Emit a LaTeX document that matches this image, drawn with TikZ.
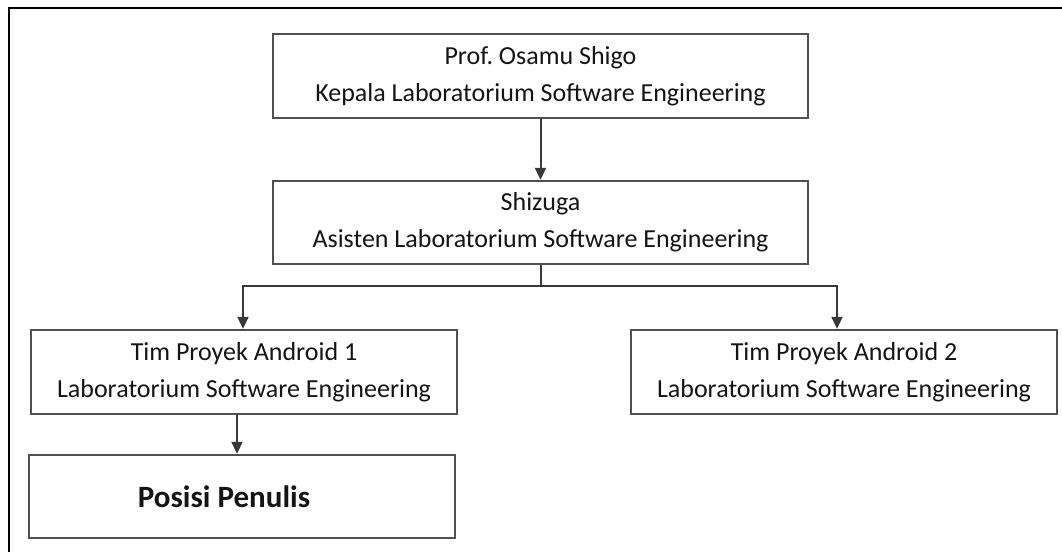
\documentclass[tikz,border=0pt]{standalone}
\usepackage{fontspec}
\setmainfont{Carlito}
\usetikzlibrary{arrows.meta,positioning,calc}
\definecolor{boxline}{HTML}{505050}
\definecolor{txt}{HTML}{141414}
\frenchspacing
\begin{document}
\begin{tikzpicture}[x=0.5pt,y=-0.5pt,
  orgbox/.style={draw=boxline,line width=1.2pt,inner sep=0pt,align=center,
    text=txt,font=\fontsize{13}{18.5}\selectfont},
  conn/.style={draw=boxline!70!black,line width=1pt},
  arr/.style={conn,-{Triangle[width=5.5pt,length=6pt]}}]
\useasboundingbox (0,0) rectangle (1062,552);
\draw[line width=0.9pt,black] (9,552) -- (9,8) -- (1062,8);
\node[orgbox,minimum width=267.5pt,minimum height=42pt] (prof) at (540.5,76)
  {Prof. Osamu Shigo\\Kepala Laboratorium Software Engineering};
\node[orgbox,minimum width=267.5pt,minimum height=41.5pt] (asis) at (540.5,222.5)
  {Shizuga\\Asisten Laboratorium Software Engineering};
\node[orgbox,minimum width=213pt,minimum height=42pt] (tim1) at (244,372)
  {Tim Proyek Android 1\\Laboratorium Software Engineering};
\node[orgbox,minimum width=213pt,minimum height=42pt] (tim2) at (844,372)
  {Tim Proyek Android 2\\Laboratorium Software Engineering};
\node[orgbox,minimum width=213pt,minimum height=41.5pt,font=\bfseries\fontsize{15.5}{18}\selectfont] (pos) at (242,496.5)
  {\hspace*{-18pt}Posisi Penulis};
\draw[arr] (prof.south) -- (asis.north);
\coordinate (j) at ($(asis.south)+(0,21)$);
\draw[conn] (asis.south) -- (j);
\draw[arr] (j) -| ([xshift=-0.5pt]tim1.north);
\draw[arr] (j) -| ([xshift=-3.5pt]tim2.north);
\draw[arr] ([xshift=-3.5pt]tim1.south) -- ([xshift=-3.5pt]tim1.south |- pos.north);
\end{tikzpicture}
\end{document}
